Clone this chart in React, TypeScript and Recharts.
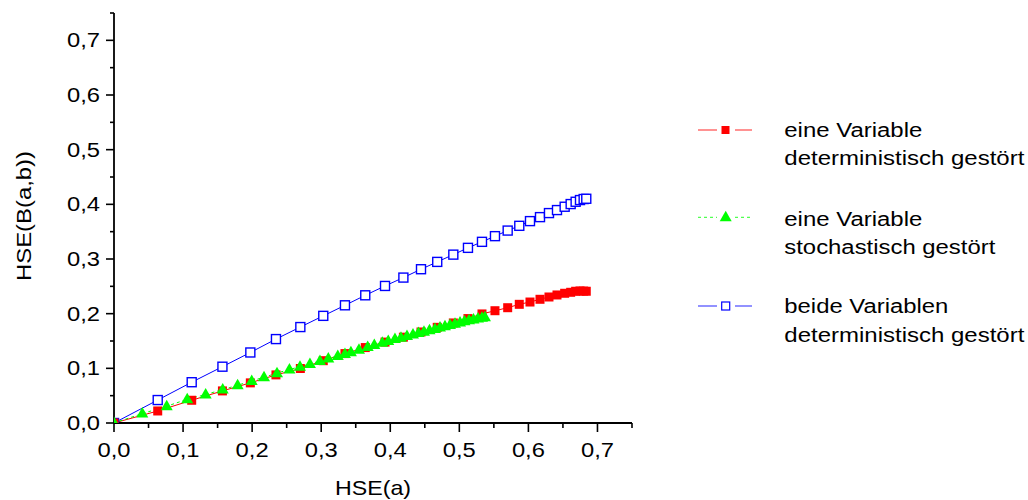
import React from 'react';
import { LineChart, Line, XAxis, YAxis, Legend } from 'recharts';

// shared HSE(a) grid for the deterministic series
const hseADet = [0, 0.0633, 0.1125, 0.157, 0.1974, 0.2345, 0.2698, 0.303, 0.3344, 0.3638, 0.3924, 0.419, 0.4445, 0.468, 0.4913, 0.5125, 0.5328, 0.5516, 0.57, 0.5868, 0.6023, 0.6168, 0.6298, 0.6414, 0.6525, 0.6612, 0.6684, 0.6747, 0.68, 0.6838];
const oneVarDetY = [0, 0.022, 0.0416, 0.0587, 0.0734, 0.088, 0.0997, 0.114, 0.127, 0.138, 0.148, 0.157, 0.1665, 0.175, 0.183, 0.191, 0.1995, 0.2054, 0.2109, 0.2171, 0.2213, 0.2263, 0.2305, 0.2342, 0.2373, 0.2391, 0.241, 0.2415, 0.2413, 0.241];
const bothVarDetY = [0, 0.042, 0.0746, 0.103, 0.129, 0.1535, 0.1755, 0.196, 0.2153, 0.2336, 0.2507, 0.266, 0.2813, 0.2947, 0.308, 0.3204, 0.3314, 0.3418, 0.352, 0.3607, 0.3693, 0.3766, 0.384, 0.3895, 0.3956, 0.4005, 0.4047, 0.4078, 0.4097, 0.4102];

const hseAStoch = [0, 0.041, 0.0763, 0.106, 0.1327, 0.1574, 0.179, 0.1994, 0.2172, 0.236, 0.254, 0.2693, 0.2837, 0.2982, 0.3103, 0.324, 0.3344, 0.343, 0.3547, 0.3673, 0.3769, 0.3885, 0.3971, 0.4068, 0.4155, 0.4242, 0.4329, 0.4408, 0.4488, 0.4568, 0.4647, 0.472, 0.4792, 0.4865, 0.4937, 0.501, 0.5075, 0.514, 0.5205, 0.527, 0.5328, 0.5371];
const oneVarStochY = [0, 0.0172, 0.0306, 0.0435, 0.052, 0.0612, 0.069, 0.077, 0.0838, 0.0912, 0.098, 0.1027, 0.108, 0.1135, 0.118, 0.1225, 0.126, 0.1295, 0.134, 0.139, 0.1425, 0.147, 0.15, 0.1535, 0.156, 0.159, 0.162, 0.1645, 0.167, 0.1695, 0.172, 0.1745, 0.177, 0.1792, 0.1815, 0.1838, 0.186, 0.188, 0.1895, 0.191, 0.1925, 0.1935];

const axisTicks = [0, 0.05, 0.1, 0.15, 0.2, 0.25, 0.3, 0.35, 0.4, 0.45, 0.5, 0.55, 0.6, 0.65, 0.7, 0.75];
const labelledTicks = [0, 0.1, 0.2, 0.3, 0.4, 0.5, 0.6, 0.7];

const seriesNames = [
  ['eine Variable', 'deterministisch gestört'],
  ['eine Variable', 'stochastisch gestört'],
  ['beide Variablen', 'deterministisch gestört'],
];
const seriesColors = ['#FF0000', '#00FF00', '#0000FF'];

const zip = (xs: number[], ys: number[]) => xs.map((x, i) => ({ x, y: ys[i] }));
const redData = zip(hseADet, oneVarDetY);
const greenData = zip(hseAStoch, oneVarStochY);
const blueData = zip(hseADet, bothVarDetY);

const FONT = '"Liberation Sans", Arial, sans-serif';
const fmt = (v: number) => v.toFixed(1).replace('.', ',');
const isMajor = (v: number) => labelledTicks.some((t) => Math.abs(t - v) < 1e-6);

const XTick = (props: any) => {
  const { x, y, payload } = props;
  const v = payload.value;
  const major = isMajor(v);
  return (
    <g>
      <line x1={x} x2={x} y1={y} y2={y + (major ? 9 : 5)} stroke="#000" strokeWidth={1.6} />
      {major && (
        <text x={x} y={y + 34} textAnchor="middle" fontSize={19.5} fontFamily={FONT} fill="#000" textLength={33} lengthAdjust="spacingAndGlyphs">
          {fmt(v)}
        </text>
      )}
    </g>
  );
};

const YTick = (props: any) => {
  const { x, y, payload } = props;
  const v = payload.value;
  const major = isMajor(v);
  return (
    <g>
      <line x1={x} x2={x - (major ? 8 : 4)} y1={y} y2={y} stroke="#000" strokeWidth={1.6} />
      {major && (
        <text x={x - 14} y={y + 7} textAnchor="end" fontSize={19.5} fontFamily={FONT} fill="#000" textLength={33} lengthAdjust="spacingAndGlyphs">
          {fmt(v)}
        </text>
      )}
    </g>
  );
};

const XLabel = (props: any) => {
  const vb = props.viewBox || { x: 114, y: 423, width: 518, height: 77 };
  return (
    <text x={vb.x + vb.width / 2} y={vb.y + 72} textAnchor="middle" fontSize={21} fontFamily={FONT} fill="#000" textLength={76} lengthAdjust="spacingAndGlyphs">
      HSE(a)
    </text>
  );
};

const YLabel = (props: any) => {
  const vb = props.viewBox || { x: 0, y: 13, width: 114, height: 410 };
  const cx = vb.x + 31;
  const cy = vb.y + vb.height / 2 - 2;
  return (
    <text x={cx} y={cy} transform={`rotate(-90 ${cx} ${cy})`} textAnchor="middle" fontSize={21} fontFamily={FONT} fill="#000" textLength={130} lengthAdjust="spacingAndGlyphs">
      HSE(B(a,b))
    </text>
  );
};

const RedDot = (p: any) => {
  if (p.cx == null || p.cy == null) return <g key={`r${p.index}`} />;
  return <rect key={`r${p.index}`} x={p.cx - 4.5} y={p.cy - 4.5} width={9} height={9} fill="#FF0000" stroke="none" />;
};
const GreenDot = (p: any) => {
  if (p.cx == null || p.cy == null) return <g key={`g${p.index}`} />;
  const { cx, cy } = p;
  return <polygon key={`g${p.index}`} points={`${cx},${cy - 6.5} ${cx - 6},${cy + 4} ${cx + 6},${cy + 4}`} fill="#00FF00" stroke="none" />;
};
const BlueDot = (p: any) => {
  if (p.cx == null || p.cy == null) return <g key={`b${p.index}`} />;
  return <rect key={`b${p.index}`} x={p.cx - 4.5} y={p.cy - 4.5} width={9} height={9} fill="#FFFFFF" stroke="#0000FF" strokeWidth={1.4} />;
};

const LegendBox = () => {
  const rows = [30, 117.3, 206];
  const baselines = [[37.3, 65], [126, 154], [213.3, 241.7]];
  return (
    <svg width={338} height={260} style={{ display: 'block', overflow: 'visible' }}>
      {rows.map((ly, i) => {
        const col = seriesColors[i];
        const dash = i === 1 ? '3 3' : undefined;
        return (
          <g key={i}>
            <line x1={8} x2={27} y1={ly} y2={ly} stroke={col} strokeWidth={1} strokeDasharray={dash} opacity={0.85} />
            <line x1={45} x2={62} y1={ly} y2={ly} stroke={col} strokeWidth={1} strokeDasharray={dash} opacity={0.85} />
            {i === 0 && <rect x={31.5} y={ly - 4} width={8} height={8} fill={col} />}
            {i === 1 && <polygon points={`35.7,${ly - 6.5} 29.7,${ly + 4} 41.7,${ly + 4}`} fill={col} />}
            {i === 2 && <rect x={31.7} y={ly - 4} width={8} height={8} fill="#fff" stroke={col} strokeWidth={1.2} />}
            <text x={94.3} y={baselines[i][0]} fontSize={20} fontFamily={FONT} fill="#000" textLength={i === 2 ? 164 : 138} lengthAdjust="spacingAndGlyphs">
              {seriesNames[i][0]}
            </text>
            <text x={94.3} y={baselines[i][1]} fontSize={20} fontFamily={FONT} fill="#000" textLength={i === 1 ? 211 : 240} lengthAdjust="spacingAndGlyphs">
              {seriesNames[i][1]}
            </text>
          </g>
        );
      })}
    </svg>
  );
};

export default function App() {
  return (
    <div style={{ position: 'absolute', left: 0, top: 0, width: 1028, height: 500, background: '#fff' }}>
      <LineChart width={1028} height={500} margin={{ top: 13, right: 396, left: 0, bottom: 0 }} style={{ fontFamily: FONT }}>
        <XAxis
          dataKey="x"
          type="number"
          domain={[0, 0.75]}
          ticks={axisTicks}
          interval={0}
          allowDataOverflow
          height={77}
          tickSize={0}
          tickMargin={0}
          tickLine={false}
          tick={<XTick />}
          axisLine={{ stroke: '#000', strokeWidth: 1.8 }}
          label={<XLabel />}
        />
        <YAxis
          dataKey="y"
          type="number"
          domain={[0, 0.75]}
          ticks={axisTicks}
          interval={0}
          allowDataOverflow
          width={114}
          tickSize={0}
          tickMargin={0}
          tickLine={false}
          tick={<YTick />}
          axisLine={{ stroke: '#000', strokeWidth: 1.8 }}
          label={<YLabel />}
        />
        <Legend
          layout="vertical"
          align="center"
          verticalAlign="middle"
          wrapperStyle={{ left: 690, top: 100, width: 338, height: 260 }}
          content={() => <LegendBox />}
        />
        <Line data={blueData} dataKey="y" name="beide Variablen deterministisch gestört" type="linear" stroke="#0000FF" strokeWidth={1} dot={BlueDot} activeDot={false} isAnimationActive={false} />
        <Line data={redData} dataKey="y" name="eine Variable deterministisch gestört" type="linear" stroke="#FF0000" strokeWidth={1} dot={RedDot} activeDot={false} isAnimationActive={false} />
        <Line data={greenData} dataKey="y" name="eine Variable stochastisch gestört" type="linear" stroke="#00FF00" strokeWidth={1} strokeDasharray="3 3" dot={GreenDot} activeDot={false} isAnimationActive={false} />
      </LineChart>
    </div>
  );
}
